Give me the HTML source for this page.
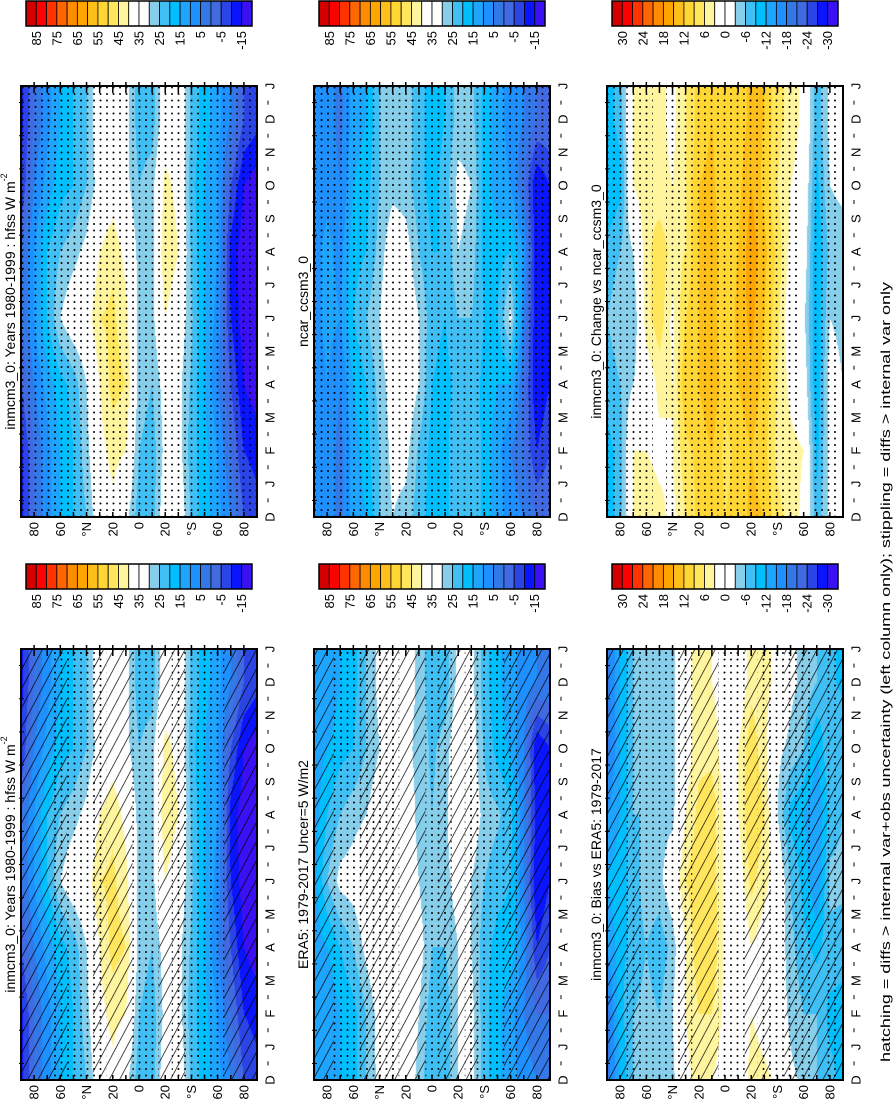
<!DOCTYPE html>
<html><head><meta charset="utf-8">
<style>
html,body{margin:0;padding:0;background:#fff;}
#root{position:relative;width:894px;height:1100px;overflow:hidden;font-family:"Liberation Sans",sans-serif;}
canvas{position:absolute;}
svg{position:absolute;left:0;top:0;}
</style></head>
<body>
<div id="root">
<canvas id="c0" width="236" height="431" style="left:21px;top:86px"></canvas>
<canvas id="c1" width="236" height="431" style="left:314px;top:86px"></canvas>
<canvas id="c2" width="236" height="431" style="left:607px;top:86px"></canvas>
<canvas id="c3" width="236" height="431" style="left:21px;top:649px"></canvas>
<canvas id="c4" width="236" height="431" style="left:314px;top:649px"></canvas>
<canvas id="c5" width="236" height="431" style="left:607px;top:649px"></canvas>
<svg id="ov" width="894" height="1100">
<defs>
<pattern id="dots" width="6.5" height="6.5" patternUnits="userSpaceOnUse"><circle cx="3" cy="3" r="1" fill="#000"/></pattern>
<pattern id="hatch" width="9" height="9" patternUnits="userSpaceOnUse" patternTransform="rotate(28)"><line x1="0" y1="0" x2="0" y2="9" stroke="#000" stroke-width="1.4"/></pattern>
</defs>
</svg>
</div>
<script>
// latitude nodes 90N..90S (10 deg), time nodes: Dec, Feb, Apr, Jun, Aug, Oct, Dec
const lats = [90,80,70,60,50,40,30,20,10,0,-10,-20,-30,-40,-50,-60,-70,-80,-90];
const monthLabels = ["D","J","F","M","A","M","J","J","A","S","O","N","D","J"];
const latLabels = ["80","60","°N","20","0","20","°S","60","80"];
const absTicks = ["85","75","65","55","45","35","25","15","5","-5","-15"];
const diffTicks = ["30","24","18","12","6","0","-6","-12","-18","-24","-30"];
const absColors = ['#d40000','#ff0000','#ff3300','#ff6600','#ff8c00','#ffa500','#ffbf1a','#ffd633','#ffe65c','#fff59e','#ffffff','#ffffff','#87ceeb','#40bff5','#00bfff','#1ea5ff','#1e90ff','#3478e8','#4169e1','#2a44e6','#0a14ff','#3a10f5'];

const inmcmField = [
[-12,-12,-5,0,0,-10,-12],[0,0,5,10,10,5,0],[8,8,12,20,20,12,8],[15,15,18,30,25,18,15],
[20,20,22,35,28,20,20],[25,28,30,37,32,25,25],[35,38,40,45,40,33,35],[38,42,47,46,44,36,38],
[32,40,45,42,38,32,32],[22,25,28,28,28,25,22],[22,22,25,28,28,28,22],[35,32,33,40,45,42,35],
[36,33,32,35,40,38,36],[24,22,24,26,24,22,24],[17,17,15,15,15,15,17],[12,10,5,8,10,10,12],
[5,0,-5,-10,-12,-5,5],[-5,-10,-15,-18,-18,-15,-5],[-8,-12,-18,-20,-20,-18,-8]];
const ncarField = [
[5,5,5,8,8,5,5],[8,8,10,12,12,8,8],[3,3,5,10,8,5,3],[12,12,15,20,18,15,12],
[15,18,20,25,20,18,15],[25,25,27,30,27,25,25],[30,32,33,37,35,28,30],[28,32,35,36,33,27,28],
[22,24,30,30,25,22,22],[18,18,20,22,20,18,18],[18,18,18,20,20,22,20],[25,25,22,25,30,32,27],
[25,25,24,25,28,30,27],[18,18,18,20,18,18,18],[12,12,15,20,18,12,12],[8,5,15,32,20,10,8],
[5,0,0,5,10,0,5],[0,-10,-15,-15,-15,-15,0],[0,-5,-10,-10,-10,-10,0]];
const era5Field = [
[12,12,12,12,12,12,12],[10,10,15,25,20,15,10],[15,15,20,32,25,18,15],[18,18,25,33,28,20,18],
[25,25,32,36,30,25,25],[32,33,36,36,35,30,32],[36,38,37,36,36,33,35],[35,37,37,35,35,32,35],
[28,30,33,30,28,28,28],[20,22,25,25,25,24,22],[22,22,25,28,28,27,22],[30,30,30,33,38,36,32],
[32,32,30,30,35,34,32],[22,22,22,25,28,24,22],[16,16,18,22,26,18,16],[12,12,18,20,22,14,12],
[8,5,8,5,5,5,8],[5,0,-10,-15,-12,-15,5],[5,0,-5,-10,-10,-10,5]];
const changeField = [
[-10,-10,-8,-6,-8,-12,-10],[-8,-8,-6,-4,-6,-10,-8],[3,3,-3,-6,-3,3,3],[5,3,0,5,5,5,5],
[4,2,4,8,8,4,4],[2,3,3,2,5,3,2],[6,8,12,9,6,6,6],[10,10,12,12,12,12,10],
[12,12,15,14,14,13,12],[9,8,10,9,10,9,9],[10,10,12,13,12,11,10],[13,12,14,16,17,15,13],
[12,10,11,12,13,11,12],[7,5,6,7,8,6,7],[5,4,2,0,2,3,5],[2,3,0,-2,0,1,2],
[-8,-10,-12,-12,-12,-10,-8],[-2,-2,-1,-3,-5,-3,-2],[0,-2,-3,-4,-5,-2,0]];
const biasField = [
[-20,-20,-15,-12,-15,-20,-20],[-12,-10,-10,-10,-12,-12,-12],[-6,-6,-8,-8,-6,-6,-6],[-5,-5,-6,-4,-6,-4,-5],
[-6,-6,-8,-4,-4,-6,-6],[-4,-3,-5,0,-4,-4,-4],[2,3,3,6,3,1,2],[4,6,8,8,7,5,4],
[3,6,9,8,8,5,3],[1,2,2,2,2,1,1],[-2,-2,-2,0,3,3,-1],[5,3,3,7,9,8,5],
[4,1,1,4,6,4,4],[2,0,0,1,-3,-2,2],[-2,-4,-5,-6,-10,-4,-2],[-4,-6,-8,-10,-12,-6,-4],
[-6,-6,-10,-15,-15,-12,-6],[-8,-10,-7,-5,-8,-6,-8],[-10,-10,-8,-5,-6,-6,-10]];
// significance marks per latitude: 0 none, 1 stipple, 2 hatch, 3 both
const maskAll = [1,1,1,1,1,1,1,1,1,1,1,1,1,1,1,1,1,1,1];
const maskChange = [1,1,1,1,0,1,1,1,1,1,1,1,1,1,1,0,1,1,0];
const maskModelHatch = [2,2,2,3,1,1,3,2,2,1,1,2,3,1,1,1,2,2,2];
const maskEra5 = [2,2,1,1,3,3,3,2,2,1,3,2,3,1,1,3,2,2,2];
const maskBias = [2,2,3,1,1,1,3,2,2,1,1,2,3,1,3,3,2,3,2];

const W=236,H=431;
const cols=[21,314,607], rows=[86,649];
const panels = [
 {id:'c0',x:cols[0],y:rows[0],f:inmcmField,diff:false,mask:maskAll,title:'inmcm3_0: Years 1980-1999 : hfss W m',sup:'-2',name:'model-panel-stippled'},
 {id:'c1',x:cols[1],y:rows[0],f:ncarField,diff:false,mask:maskAll,title:'ncar_ccsm3_0',name:'ncar-panel'},
 {id:'c2',x:cols[2],y:rows[0],f:changeField,diff:true,mask:maskChange,title:'inmcm3_0: Change vs ncar_ccsm3_0',name:'change-panel'},
 {id:'c3',x:cols[0],y:rows[1],f:inmcmField,diff:false,mask:maskModelHatch,title:'inmcm3_0: Years 1980-1999 : hfss W m',sup:'-2',name:'model-panel-hatched'},
 {id:'c4',x:cols[1],y:rows[1],f:era5Field,diff:false,mask:maskEra5,title:'ERA5: 1979-2017 Uncer=5 W/m2',name:'era5-panel'},
 {id:'c5',x:cols[2],y:rows[1],f:biasField,diff:true,mask:maskBias,title:'inmcm3_0: Bias vs ERA5: 1979-2017',name:'bias-panel'}
];
function latToX(lat){return (90-lat)/180*W;}
function monthToY(i){return H - i/13*H;}
function levelIndex(v,diff){
  let k = diff ? Math.floor((33-v)/3) : Math.floor((90-v)/5);
  return Math.max(0,Math.min(21,k));
}
function hex(c){return [parseInt(c.substr(1,2),16),parseInt(c.substr(3,2),16),parseInt(c.substr(5,2),16)];}
const rgb = absColors.map(hex);
panels.forEach(p=>{
  const ctx=document.getElementById(p.id).getContext('2d');
  const img=ctx.createImageData(W,H);
  for(let py=0;py<H;py++){
    const t=(H-py-0.5)/H*13/2;
    const ti=Math.max(0,Math.min(5.999,t));
    const t0=Math.floor(ti),tf=ti-t0;
    for(let px=0;px<W;px++){
      const li=(px+0.5)/W*18;
      const l0=Math.min(17,Math.floor(li)),lf=li-l0;
      const f=p.f;
      const v=(f[l0][t0]*(1-tf)+f[l0][t0+1]*tf)*(1-lf)+(f[l0+1][t0]*(1-tf)+f[l0+1][t0+1]*tf)*lf;
      const c=rgb[levelIndex(v,p.diff)];
      const o=(py*W+px)*4;
      img.data[o]=c[0];img.data[o+1]=c[1];img.data[o+2]=c[2];img.data[o+3]=255;
    }
  }
  ctx.putImageData(img,0,0);
});
const NS='http://www.w3.org/2000/svg';
const svg=document.getElementById('ov');
function mk(tag,attrs,parent){const e=document.createElementNS(NS,tag);for(const k in attrs)e.setAttribute(k,attrs[k]);(parent||svg).appendChild(e);return e;}
function vtext(x,y,str,size,anchor,parent){
  const t=mk('text',{x:0,y:0,transform:`translate(${x},${y}) rotate(-90)`,'font-size':size,'text-anchor':anchor,'dominant-baseline':'central',fill:'#000'},parent);
  t.textContent=str;return t;
}
panels.forEach((p,pi)=>{
  const g=mk('g',{});
  
  
  p.mask.forEach((m,i)=>{
    const x0=Math.max(0,latToX(lats[i]+5)), x1=Math.min(W,latToX(lats[i]-5));
    if(m&1){const r=mk('rect',{x:p.x+x0,y:p.y,width:x1-x0,height:H,fill:'url(#dots)'},g);
      
      }
    if(m&2){const r=mk('rect',{x:p.x+x0,y:p.y,width:x1-x0,height:H,fill:'url(#hatch)'},g);
      
      }
  });
  const fr=mk('rect',{x:p.x,y:p.y,width:W,height:H,fill:'none',stroke:'#000','stroke-width':2},g);
  
  
  for(let lat=80;lat>=-80;lat-=10){
    const x=p.x+latToX(lat);
    mk('line',{x1:x,y1:p.y-4,x2:x,y2:p.y+7,stroke:'#000','stroke-width':1.5},g);
    mk('line',{x1:x,y1:p.y+H-5,x2:x,y2:p.y+H,stroke:'#000','stroke-width':1.5},g);
  }
  latLabels.forEach((s,i)=>{
    const t=vtext(p.x+latToX(80-i*20),p.y+H+5,s,13,'end',g);
    
    
  });
  monthLabels.forEach((s,i)=>{
    const t=vtext(p.x+W+13,p.y+monthToY(i),s,13,'middle',g);
    
    
    if(i<13){const ym=p.y+monthToY(i+0.5);
      mk('line',{x1:p.x+W+11,y1:ym-2,x2:p.x+W+11,y2:ym+2,stroke:'#000','stroke-width':1},g);
      mk('line',{x1:p.x-2,y1:ym,x2:p.x+3,y2:ym,stroke:'#000','stroke-width':1},g);}
  });
  const tt=mk('text',{x:0,y:0,transform:`translate(${p.x-11},${p.y+H/2}) rotate(-90)`,'font-size':14,'text-anchor':'middle','dominant-baseline':'central'},g);
  tt.textContent=p.title;
  if(p.sup){const s=mk('tspan',{'font-size':9,dy:-6},tt);s.textContent=p.sup;}
  
  
  const cb=mk('g',{},svg);
  
  
  const cx=p.x+5, cw=226/22, cy=p.y-85, ch=25;
  absColors.forEach((c,i)=>{
    const r=mk('rect',{x:cx+i*cw,y:cy,width:cw,height:ch,fill:c,stroke:'#000','stroke-width':0.8},cb);
    
    
  });
  mk('rect',{x:cx,y:cy,width:226,height:ch,fill:'none',stroke:'#000','stroke-width':1.5},cb);
  const ticks=p.diff?diffTicks:absTicks;
  ticks.forEach((s,i)=>{
    const t=vtext(cx+(2*i+1)*cw,cy+ch+5,s,13,'end',cb);
    
    
  });
});
const foot=mk('text',{x:0,y:0,transform:'translate(886,672) rotate(-90)','font-size':12.5,'text-anchor':'middle','dominant-baseline':'central',textLength:780,lengthAdjust:'spacingAndGlyphs'});
foot.textContent='hatching = diffs > internal var+obs uncertainty (left column only); stippling = diffs > internal var only';


</script>
</body></html>
